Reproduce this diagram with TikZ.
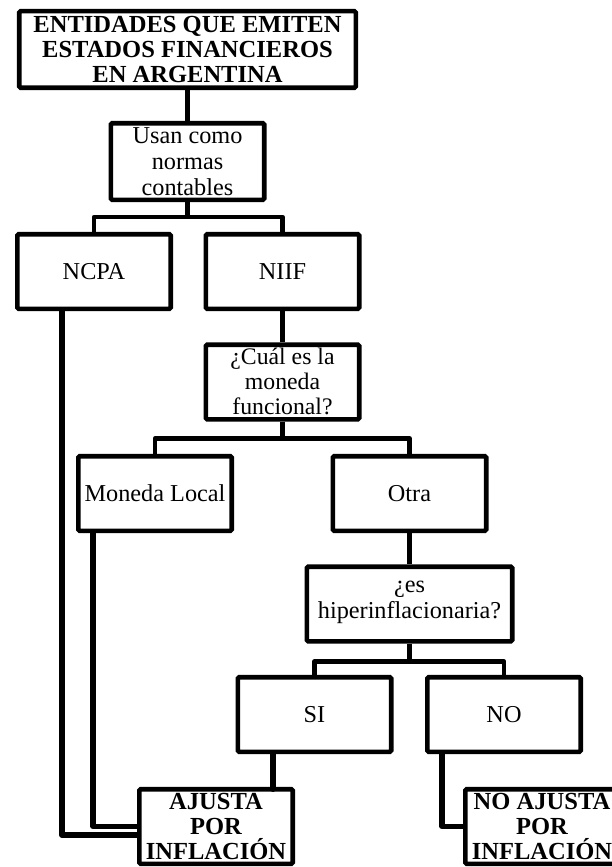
\documentclass[tikz,border=0pt]{standalone}
\usepackage{fontspec}
\setmainfont{Liberation Serif}
\begin{document}
\begin{tikzpicture}[x=0.75pt, y=-0.75pt,
  box/.style={draw, line width=3.4pt, fill=white, rounded corners=1pt, inner sep=0pt, align=center, minimum width=115.1pt, minimum height=55.9pt, font=\fontsize{18.2}{19.6}\selectfont},
  askbox/.style={box, execute at begin node=\strut, execute at end node=\strut},
  endbox/.style={box, font=\fontsize{18.4}{18.8}\selectfont\bfseries},
  wire/.style={line width=3.5pt, line join=round},
  link/.style={line width=4.5pt, line join=round}]
  \useasboundingbox (0,0) rectangle (611,867);
  \node[endbox, minimum width=252.4pt, minimum height=57.4pt] (top) at (187.5,49.5) {ENTIDADES QUE EMITEN\\ESTADOS FINANCIEROS\\EN ARGENTINA};
  \node[box, minimum height=57.4pt] (usan) at (187.5,161.5) {Usan como\\normas\\contables};
  \node[box] (ncpa) at (94,271.5) {NCPA};
  \node[box] (niif) at (282.5,271.5) {NIIF};
  \node[box, font=\fontsize{17.8}{18.9}\selectfont, execute at end node={\rule[-1.5pt]{0pt}{0pt}}] (cual) at (282.5,382) {¿Cuál es la\\moneda\\funcional?};
  \node[box] (local) at (155,493.5) {Moneda Local};
  \node[box] (otra) at (409.5,493.5) {Otra};
  \node[askbox, minimum width=154.1pt] (hiper) at (409.5,604) {¿es\\hiperinflacionaria?};
  \node[box] (si) at (314.5,714.5) {SI};
  \node[box] (no) at (504,714.5) {NO};
  \node[endbox] (ajusta) at (216,826.5) {AJUSTA\\POR\\INFLACIÓN};
  \node[endbox] (noajusta) at (542,826.5) {NO AJUSTA\\POR\\INFLACIÓN};
  \draw[wire] (top) -- (usan);
  \draw[wire] (usan.south) -- ++(0,15) -| (ncpa.north);
  \draw[wire] (usan.south) -- ++(0,15) -| (niif.north);
  \draw[wire] (niif) -- (cual);
  \draw[wire] (cual.south) -- ++(0,17) -| (local.north);
  \draw[wire] (cual.south) -- ++(0,17) -| (otra.north);
  \draw[wire] (otra) -- (hiper);
  \draw[wire] (hiper.south) -- ++(0,18) -| (si.north);
  \draw[wire] (hiper.south) -- ++(0,18) -| (no.north);
  \path (ncpa.south) ++(-32,0) coordinate (ncpatap);
  \path (local.south) ++(-62,0) coordinate (localtap);
  \path (si.south) ++(-41.5,0) coordinate (sitap);
  \path (no.south) ++(-62,0) coordinate (notap);
  \draw[link] (ncpatap) |- ([yshift=-6.4pt]ajusta.west);
  \draw[link, line width=3.8pt] (localtap) |- (ajusta.west);
  \draw[link, line cap=round] (sitap) -- (sitap |- ajusta.north) -- ++(0,2);
  \draw[link, line width=3.8pt] (notap) |- (noajusta.west);
\end{tikzpicture}
\end{document}
